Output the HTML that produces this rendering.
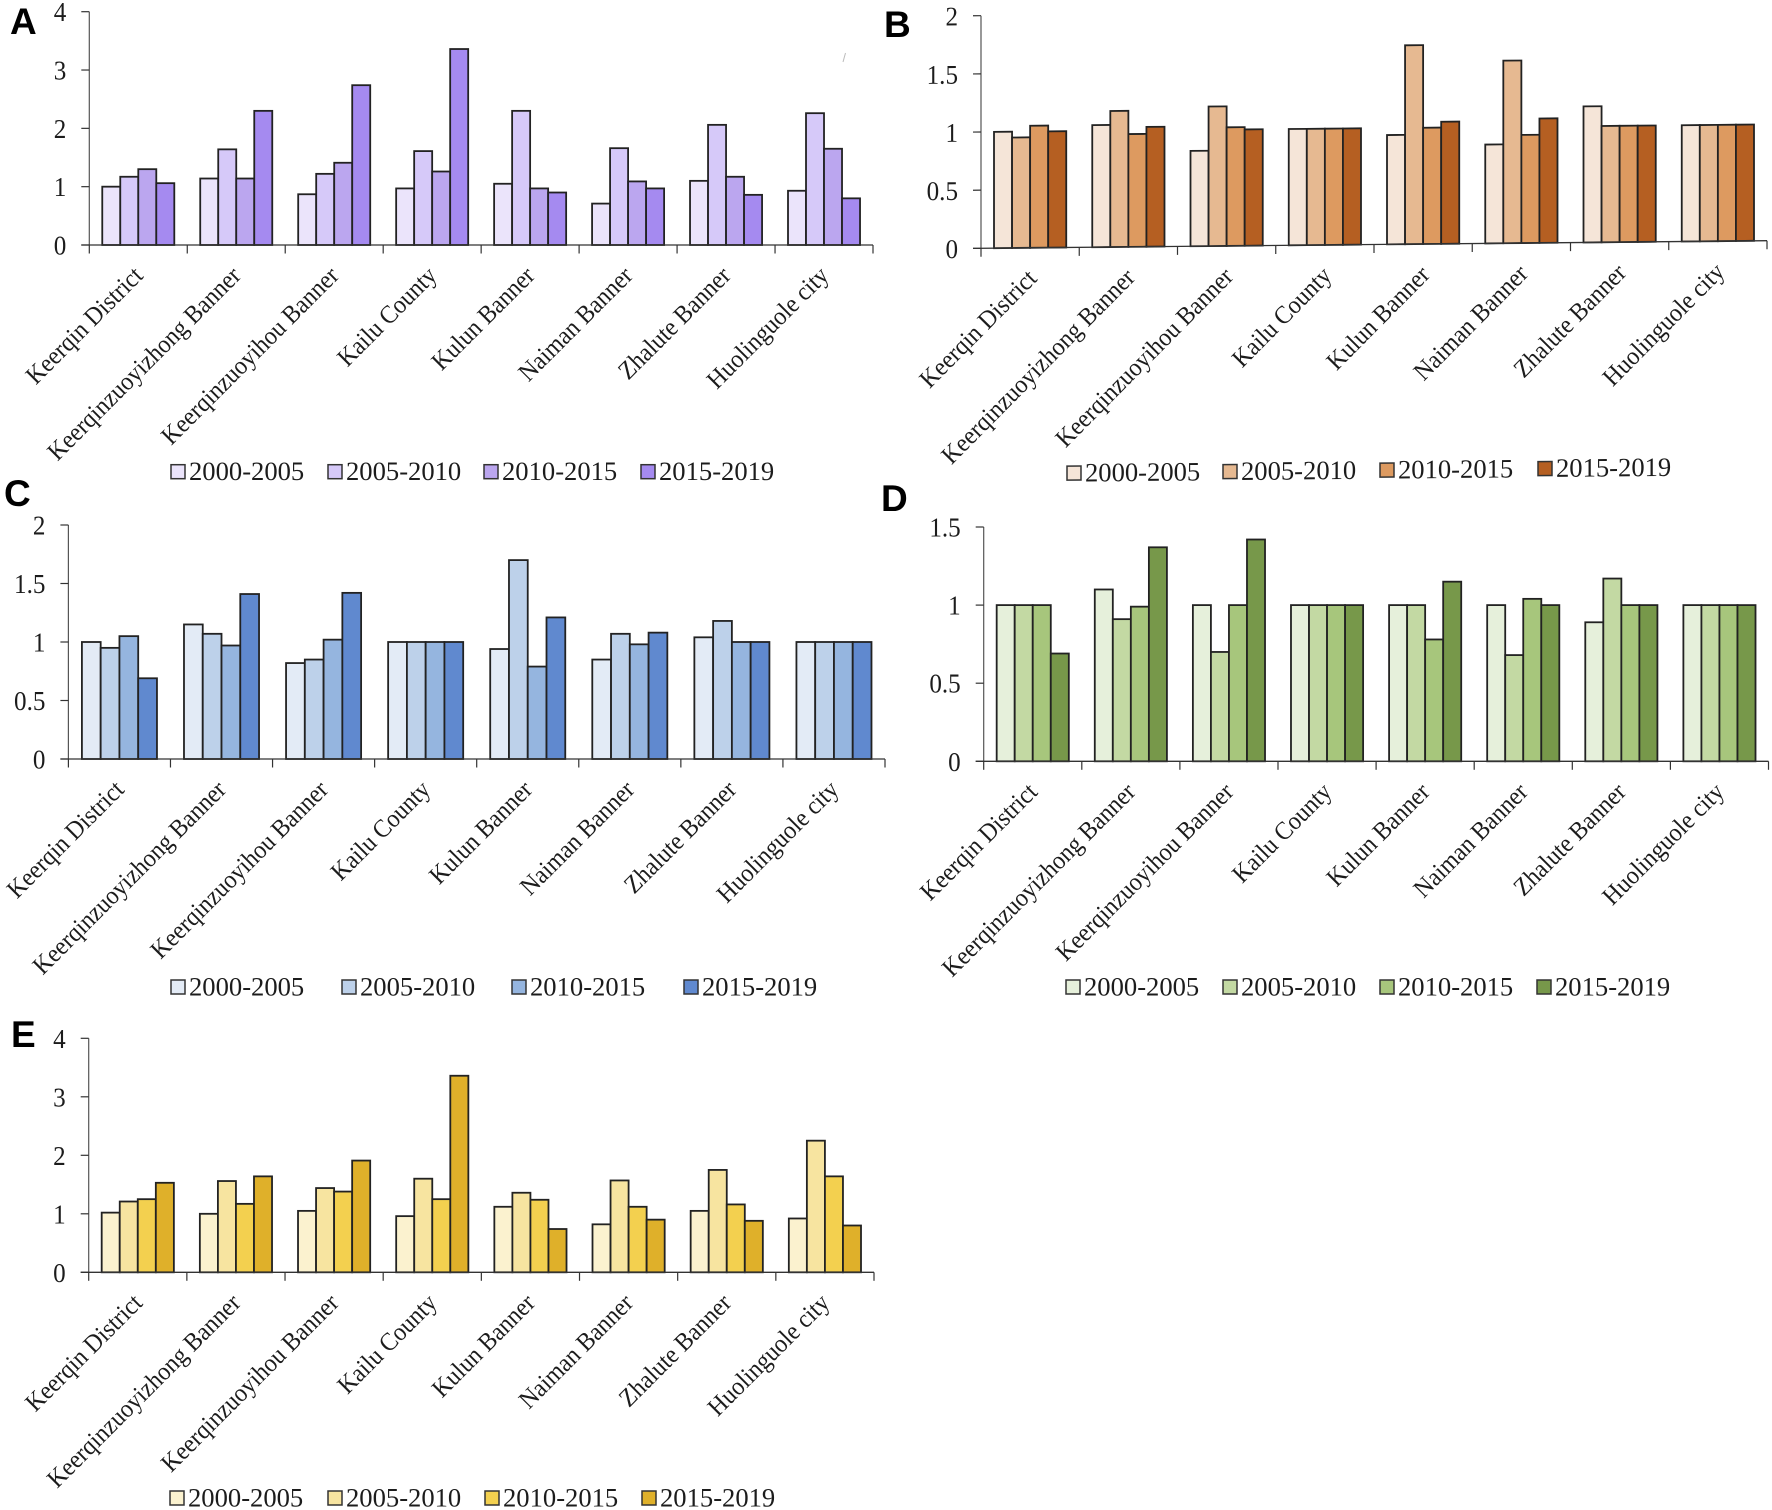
<!DOCTYPE html>
<html lang="en">
<head>
<meta charset="utf-8">
<title>Panel bar charts A–E</title>
<style>
html,body{margin:0;padding:0;background:#fff;}
svg{display:block;}
text{font-family:"Liberation Serif",serif;fill:#1c1c1c;}
.letter{font-family:"Liberation Sans",sans-serif;font-weight:700;font-size:37px;fill:#000;}
</style>
</head>
<body>
<svg id="figure" xmlns="http://www.w3.org/2000/svg" width="1772" height="1510" viewBox="0 0 1772 1510"></svg>
<script>
const categories = ["Keerqin District","Keerqinzuoyizhong Banner","Keerqinzuoyihou Banner","Kailu County","Kulun Banner","Naiman Banner","Zhalute Banner","Huolinguole city"];
const seriesNames = ["2000-2005","2005-2010","2010-2015","2015-2019"];

const panelATicks = [0,1,2,3,4];
const panelA2000 = [1.00,1.14,0.87,0.97,1.05,0.71,1.10,0.93];
const panelA2005 = [1.17,1.64,1.22,1.61,2.30,1.66,2.06,2.26];
const panelA2010 = [1.30,1.14,1.41,1.26,0.97,1.09,1.17,1.65];
const panelA2015 = [1.06,2.30,2.74,3.36,0.90,0.97,0.86,0.80];

const panelBTicks = [0,0.5,1,1.5,2];
const panelB2000 = [1.00,1.05,0.82,1.00,0.94,0.85,1.17,1.00];
const panelB2005 = [0.95,1.17,1.20,1.00,1.71,1.57,1.00,1.00];
const panelB2010 = [1.05,0.97,1.02,1.00,1.00,0.93,1.00,1.00];
const panelB2015 = [1.00,1.03,1.00,1.00,1.05,1.07,1.00,1.00];

const panelCTicks = [0,0.5,1,1.5,2];
const panelC2000 = [1.00,1.15,0.82,1.00,0.94,0.85,1.04,1.00];
const panelC2005 = [0.95,1.07,0.85,1.00,1.70,1.07,1.18,1.00];
const panelC2010 = [1.05,0.97,1.02,1.00,0.79,0.98,1.00,1.00];
const panelC2015 = [0.69,1.41,1.42,1.00,1.21,1.08,1.00,1.00];

const panelDTicks = [0,0.5,1,1.5];
const panelD2000 = [1.00,1.10,1.00,1.00,1.00,1.00,0.89,1.00];
const panelD2005 = [1.00,0.91,0.70,1.00,1.00,0.68,1.17,1.00];
const panelD2010 = [1.00,0.99,1.00,1.00,0.78,1.04,1.00,1.00];
const panelD2015 = [0.69,1.37,1.42,1.00,1.15,1.00,1.00,1.00];

const panelETicks = [0,1,2,3,4];
const panelE2000 = [1.02,1.00,1.05,0.96,1.12,0.82,1.05,0.92];
const panelE2005 = [1.21,1.56,1.44,1.60,1.36,1.57,1.75,2.25];
const panelE2010 = [1.25,1.17,1.38,1.25,1.24,1.12,1.16,1.64];
const panelE2015 = [1.53,1.64,1.91,3.36,0.74,0.90,0.88,0.80];

const panels = [
  {id:"a",letter:"A",lx:10,ly:34,x0:89.3,x1:873,y0:245,yTop:11.7,ticks:panelATicks,
   series:[panelA2000,panelA2005,panelA2010,panelA2015],
   colors:["#ebe4fb","#d6c9f9","#bba6ef","#a58af0"],
   legendX:[171,328,484,641],legendY:471.7,skew:0,labelShift:0},
  {id:"b",letter:"B",lx:884,ly:37,x0:981,x1:1767,y0:248.3,yTop:15.7,ticks:panelBTicks,
   series:[panelB2000,panelB2005,panelB2010,panelB2015],
   colors:["#f5e5d8","#e6b991","#dd9a60","#b55f22"],
   legendX:[1067,1223,1380,1538],legendY:474,skew:-0.554,labelShift:2},
  {id:"c",letter:"C",lx:4,ly:506,x0:68.4,x1:885,y0:759,yTop:525,ticks:panelCTicks,
   series:[panelC2000,panelC2005,panelC2010,panelC2015],
   colors:["#e3ebf6","#bdd1ea","#95b5df","#6089cf"],
   legendX:[171,342,512,684],legendY:987,skew:0,labelShift:0},
  {id:"d",letter:"D",lx:881,ly:511,x0:983.7,x1:1768.5,y0:761.3,yTop:527,ticks:panelDTicks,
   series:[panelD2000,panelD2005,panelD2010,panelD2015],
   colors:["#e6f0db","#c3d9a3","#a7c67c","#77984a"],
   legendX:[1066,1223,1380,1537],legendY:987,skew:0,labelShift:0},
  {id:"e",letter:"E",lx:11,ly:1047,x0:88.7,x1:874,y0:1272.3,yTop:1038.3,ticks:panelETicks,
   series:[panelE2000,panelE2005,panelE2010,panelE2015],
   colors:["#fbf2cf","#f7e4a0","#f3d04f","#dfb02a"],
   legendX:[170,328,485,642],legendY:1498,skew:0,labelShift:0}
];

const NS = "http://www.w3.org/2000/svg";
const root = document.getElementById("figure");

function make(tag, parent, attrs, content) {
  const el = document.createElementNS(NS, tag);
  for (const k in attrs) el.setAttribute(k, attrs[k]);
  if (content !== undefined) el.textContent = content;
  parent.appendChild(el);
  return el;
}

function catWidth(p) { return (p.x1 - p.x0) / categories.length; }
function barWidth(p) { return catWidth(p) / 5.44; }
function xScale(p, catIndex, seriesIndex) {
  return p.x0 + catIndex * catWidth(p) + (catWidth(p) - 4 * barWidth(p)) / 2 + seriesIndex * barWidth(p);
}
function yScale(p, v) {
  const max = p.ticks[p.ticks.length - 1];
  return p.y0 - (v / max) * (p.y0 - p.yTop);
}

panels.forEach(function (p) {
  const g = make("g", root, {});
  
  
  if (p.skew) g.setAttribute("transform", "translate(" + p.x0 + " " + p.y0 + ") skewY(" + p.skew + ") translate(" + (-p.x0) + " " + (-p.y0) + ")");

  p.series.forEach(function (vals, s) {
    vals.forEach(function (v, c) {
      const y = yScale(p, v);
      const bar = make("rect", g, {x:xScale(p,c,s), y:y, width:barWidth(p), height:p.y0 - y, fill:p.colors[s], stroke:"#222", "stroke-width":1.8});
      
      
    });
  });

  const yAxis = make("line", g, {x1:p.x0, x2:p.x0, y1:p.yTop, y2:p.y0, stroke:"#555", "stroke-width":1.2});
  
  
  const xAxis = make("line", g, {x1:p.x0 - 8, x2:p.x1, y1:p.y0, y2:p.y0, stroke:"#333", "stroke-width":1.3});
  
  

  p.ticks.forEach(function (t) {
    const y = yScale(p, t);
    const tick = make("line", g, {x1:p.x0 - 8, x2:p.x0, y1:y, y2:y, stroke:"#333", "stroke-width":1.2});
    
    
    const lx = p.x0 - 23;
    const ly = y + 9.5;
    const lab = make("text", g, {x:0, y:0, "text-anchor":"end", "font-size":27, transform:"translate(" + lx + " " + ly + ") scale(0.93 1)"}, String(t));
    
    
  });

  for (let i = 0; i <= categories.length; i++) {
    const x = p.x0 + i * catWidth(p);
    const tick = make("line", g, {x1:x, x2:x, y1:p.y0, y2:p.y0 + 8.5, stroke:"#333", "stroke-width":1.2});
    
    
  }

  categories.forEach(function (name, i) {
    const cx = p.x0 + (i + 0.5) * catWidth(p) + 6 + p.labelShift;
    const cy = p.y0 + 32;
    const lab = make("text", g, {x:0, y:0, "text-anchor":"end", "font-size":25.5, transform:"translate(" + cx + " " + cy + ") rotate(-45) scale(0.93 1)"}, name);
    
    
  });

  seriesNames.forEach(function (name, s) {
    const lx = p.legendX[s];
    const sw = make("rect", g, {x:lx, y:p.legendY - 7, width:14, height:14, fill:p.colors[s], stroke:"#333", "stroke-width":1.5});
    
    
    const lab = make("text", g, {x:lx + 18, y:p.legendY + 8.5, "font-size":26.6}, name);
    
    
  });

  const letter = make("text", root, {x:p.lx, y:p.ly, "class":"letter"}, p.letter);
  
  
});

const stray = make("line", root, {x1:843, y1:62, x2:845.5, y2:53, stroke:"#bbb", "stroke-width":1});


</script>
</body>
</html>
